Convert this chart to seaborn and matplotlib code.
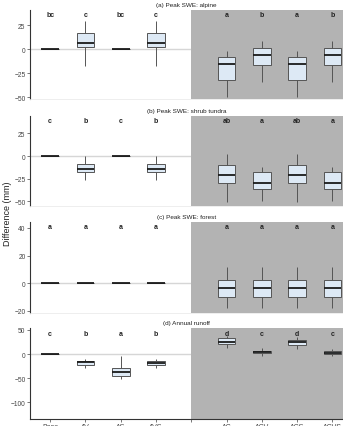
import pandas as pd
import numpy as np
import matplotlib
matplotlib.use("Agg")
import matplotlib.pyplot as plt
import seaborn as sns

# scenarios on the x axis ('' is the empty slot between the two groups)
scenarios = ['Base', 'AV', 'AS', 'AVS', '', 'AC', 'ACV', 'ACS', 'ACVS']
plotted = ['Base', 'AV', 'AS', 'AVS', 'AC', 'ACV', 'ACS', 'ACVS']

# five-number summaries: [whisker low, q1, median, q3, whisker high]
alpine = [[0, 0, 0, 0, 0], [-18, 2, 6, 17, 29], [0, 0, 0, 0, 0], [-18, 2, 6, 17, 29],
          [-50, -32, -15, -8, -2], [-34, -16, -6, 1, 9], [-50, -32, -15, -8, -2], [-34, -16, -6, 1, 9]]
shrub = [[0, 0, 0, 0, 0], [-26, -18, -14, -9, 0], [0, 0, 0, 0, 0], [-26, -18, -14, -9, 0],
         [-51, -30, -21, -10, 2], [-49, -36, -30, -18, -12], [-51, -30, -21, -10, 2], [-49, -36, -30, -18, -12]]
forest = [[0, 0, 0, 0, 0], [0, 0, 0, 0, 0], [0, 0, 0, 0, 0], [0, 0, 0, 0, 0],
          [-18, -10, -3.5, 2.5, 12], [-18, -10, -3.5, 2.5, 12], [-18, -10, -3.5, 2.5, 12], [-18, -10, -3.5, 2.5, 12]]
runoff = [[0, 0, 0, 0, 0], [-28, -22, -17, -14, -10], [-52, -46, -37, -28, -5], [-28, -22, -19, -15, -11],
          [12, 21, 26, 33, 38], [-4, 1.5, 3.5, 7, 12], [10, 19, 24, 30, 35], [-5, 0, 3, 5.5, 10]]

# significance letters above each box
alpine_letters = ['bc', 'c', 'bc', 'c', 'a', 'b', 'a', 'b']
shrub_letters = ['c', 'b', 'c', 'b', 'ab', 'a', 'ab', 'a']
forest_letters = ['a'] * 8
runoff_letters = ['c', 'b', 'a', 'b', 'd', 'c', 'd', 'c']

panels = [
    ('(a) Peak SWE: alpine', alpine, alpine_letters, (-52, 41), [-50, -25, 0, 25], 36.5),
    ('(b) Peak SWE: shrub tundra', shrub, shrub_letters, (-55, 44), [-50, -25, 0, 25], 39),
    ('(c) Peak SWE: forest', forest, forest_letters, (-21.5, 44.3), [-20, 0, 20, 40], 41.4),
    ('(d) Annual runoff', runoff, runoff_letters, (-134.5, 54), [-100, -50, 0, 50], 43),
]

# axes boxes in pixels (top, bottom) of a 343x427 figure
rows_px = [(11, 100), (117, 207), (223, 314), (329, 420)]

plt.rcParams['font.family'] = ['Liberation Sans', 'DejaVu Sans']
fig = plt.figure(figsize=(3.43, 4.27), dpi=100)

for k, (title, stats, letters, ylim, yticks, ytxt) in enumerate(panels):
    top, bot = rows_px[k]
    ax = fig.add_axes([30 / 343, (427 - bot) / 427, 313 / 343, (bot - top) / 427])
    rows = []
    for name, s in zip(plotted, stats):
        for v in s:
            rows.append({'scenario': name, 'value': v})
    df = pd.DataFrame(rows)

    ax.axhline(0, color='#d6d6d6', lw=1.0, zorder=0)
    ax.axvspan(4, 10, color='#b3b3b3', lw=0, zorder=0.5)
    sns.boxplot(data=df, x='scenario', y='value', order=scenarios, ax=ax,
                color='#dde9f5', saturation=1, linecolor='#555555', linewidth=0.7,
                width=0.5, whis=np.inf, showcaps=False,
                medianprops={'color': '#1a1a1a', 'linewidth': 1.3}, zorder=2)
    for i, lab in enumerate(letters):
        x = i if i < 4 else i + 1
        ax.text(x, ytxt, lab, ha='center', va='center', fontsize=5,
                fontweight='bold', color='#222222')

    ax.set_xlim(-0.57, 8.3)
    ax.set_ylim(*ylim)
    ax.set_yticks(yticks)
    ax.set_xlabel('')
    ax.set_ylabel('')
    ax.set_title(title, fontsize=4.6, color='#222222', pad=3)
    ax.tick_params(axis='y', labelsize=4.8, length=2, width=0.5, colors='#444444', pad=1.2)
    ax.spines['right'].set_visible(False)
    ax.spines['top'].set_visible(False)
    ax.spines['left'].set_color('#333333')
    ax.spines['left'].set_linewidth(0.8)
    if k < 3:
        ax.spines['bottom'].set_color('#ebebeb')
        ax.spines['bottom'].set_linewidth(0.6)
        ax.set_xticks([])
    else:
        ax.spines['bottom'].set_color('#333333')
        ax.spines['bottom'].set_linewidth(0.8)
        ax.tick_params(axis='x', labelsize=5, length=2, width=0.5, colors='#444444', pad=1.2)

fig.text(8 / 343, 0.5, 'Difference (mm)', rotation=90, ha='center', va='center',
         fontsize=6.5, color='#222222')

fig.savefig('out.png', dpi=100)
